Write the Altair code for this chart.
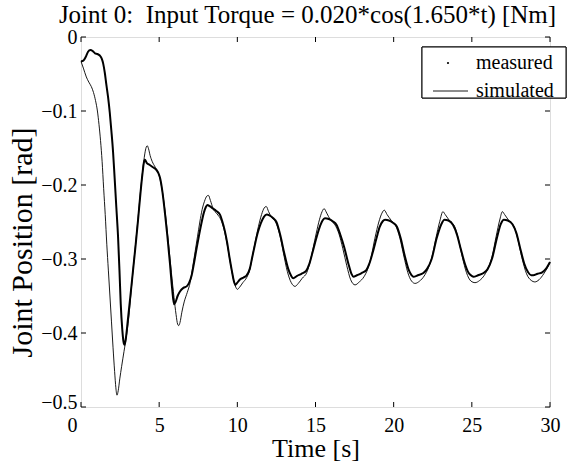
import altair as alt
import pandas as pd

# ---------------- data ----------------
meas_t = [0.0, 0.15, 0.3, 0.45, 0.6, 0.75, 0.9, 1.05, 1.2, 1.32, 1.42, 1.52, 1.62, 1.73, 1.84,
          1.94, 2.05, 2.15, 2.26, 2.37, 2.46, 2.54, 2.64, 2.72, 2.78, 2.85, 3.0, 3.15, 3.33, 3.5,
          3.65, 3.8, 3.93, 4.02, 4.09, 4.2, 4.4, 4.6, 4.8, 4.95, 5.05, 5.2, 5.37, 5.53, 5.69,
          5.83, 5.95, 6.05, 6.18, 6.33, 6.55, 6.76, 6.92, 7.08, 7.25, 7.4, 7.55, 7.7, 7.85, 7.98,
          8.08, 8.25, 8.45, 8.65, 8.89, 9.05, 9.2, 9.35, 9.5, 9.65, 9.78, 9.88, 10.0, 10.15, 10.4,
          10.6, 10.8, 10.95, 11.1, 11.3, 11.5, 11.7, 11.88, 12.05, 12.3, 12.5, 12.75, 13.0, 13.25,
          13.45, 13.58, 13.8, 14.1, 14.4, 14.6, 14.8, 15.05, 15.3, 15.45, 15.6, 15.85, 16.1, 16.35,
          16.6, 16.85, 17.1, 17.3, 17.42, 17.65, 17.95, 18.25, 18.45, 18.65, 18.9, 19.1, 19.3,
          19.45, 19.7, 19.95, 20.2, 20.45, 20.7, 20.95, 21.15, 21.26, 21.55, 21.9, 22.15, 22.43,
          22.75, 23.05, 23.25, 23.5, 23.8, 24.05, 24.3, 24.55, 24.8, 25.0, 25.1, 25.4, 25.75, 26.0,
          26.3, 26.6, 26.85, 27.05, 27.3, 27.6, 27.85, 28.1, 28.35, 28.6, 28.8, 28.93, 29.2, 29.5,
          29.75, 30.0]
meas_v = [-0.033, -0.032, -0.027, -0.020, -0.0175, -0.019, -0.022, -0.023, -0.025, -0.029, -0.036,
          -0.048, -0.064, -0.081, -0.102, -0.126, -0.155, -0.19, -0.23, -0.27, -0.315, -0.36,
          -0.395, -0.412, -0.416, -0.41, -0.382, -0.352, -0.315, -0.28, -0.247, -0.212, -0.185,
          -0.17, -0.166, -0.170, -0.173, -0.176, -0.179, -0.184, -0.19, -0.208, -0.238, -0.27,
          -0.306, -0.34, -0.361, -0.358, -0.35, -0.344, -0.339, -0.337, -0.332, -0.322, -0.303,
          -0.285, -0.268, -0.252, -0.238, -0.23, -0.227, -0.229, -0.232, -0.235, -0.240, -0.250,
          -0.262, -0.278, -0.298, -0.316, -0.330, -0.335, -0.332, -0.328, -0.325, -0.322, -0.313,
          -0.298, -0.283, -0.265, -0.252, -0.243, -0.240, -0.241, -0.245, -0.250, -0.268, -0.292,
          -0.313, -0.323, -0.326, -0.323, -0.320, -0.316, -0.307, -0.292, -0.272, -0.255, -0.248,
          -0.245, -0.246, -0.249, -0.254, -0.268, -0.285, -0.306, -0.320, -0.324, -0.322, -0.319,
          -0.315, -0.306, -0.292, -0.272, -0.257, -0.249, -0.247, -0.248, -0.251, -0.256, -0.272,
          -0.295, -0.314, -0.322, -0.324, -0.322, -0.319, -0.313, -0.300, -0.272, -0.253, -0.247,
          -0.248, -0.254, -0.267, -0.287, -0.306, -0.319, -0.323, -0.324, -0.322, -0.319, -0.314,
          -0.299, -0.272, -0.253, -0.247, -0.248, -0.253, -0.265, -0.286, -0.306, -0.318, -0.322,
          -0.322, -0.320, -0.318, -0.313, -0.304]

sim_t = [0.0, 0.15, 0.34, 0.5, 0.66, 0.8, 0.93, 1.05, 1.15, 1.25, 1.35, 1.45, 1.55, 1.65, 1.75,
         1.85, 1.95, 2.05, 2.15, 2.23, 2.3, 2.38, 2.48, 2.6, 2.75, 2.9, 3.05, 3.2, 3.35, 3.5, 3.65,
         3.8, 3.95, 4.08, 4.17, 4.24, 4.32, 4.42, 4.55, 4.75, 4.95, 5.1, 5.25, 5.42, 5.6, 5.78,
         5.95, 6.08, 6.18, 6.25, 6.33, 6.45, 6.6, 6.8, 6.98, 7.15, 7.3, 7.45, 7.6, 7.75, 7.9, 8.05,
         8.15, 8.28, 8.45, 8.7, 8.95, 9.15, 9.35, 9.55, 9.75, 9.9, 10.0, 10.15, 10.35, 10.6, 10.8,
         10.95, 11.15, 11.35, 11.55, 11.72, 11.85, 12.0, 12.2, 12.45, 12.7, 12.95, 13.2, 13.45,
         13.69, 13.9, 14.15, 14.45, 14.65, 14.85, 15.05, 15.25, 15.42, 15.55, 15.72, 15.95, 16.25,
         16.5, 16.75, 17.0, 17.25, 17.53, 17.8, 18.1, 18.35, 18.55, 18.8, 19.05, 19.25, 19.4,
         19.58, 19.85, 20.15, 20.4, 20.65, 20.9, 21.15, 21.37, 21.65, 21.95, 22.2, 22.45, 22.7,
         22.95, 23.15, 23.3, 23.6, 23.9, 24.15, 24.4, 24.65, 24.95, 25.2, 25.5, 25.8, 26.05, 26.3,
         26.55, 26.8, 26.95, 27.1, 27.4, 27.7, 27.95, 28.2, 28.5, 28.8, 29.03, 29.3, 29.6, 29.85,
         30.0]
sim_v = [-0.033, -0.042, -0.054, -0.061, -0.067, -0.075, -0.086, -0.100, -0.118, -0.14, -0.168,
         -0.205, -0.24, -0.28, -0.315, -0.35, -0.385, -0.42, -0.452, -0.474, -0.484, -0.478,
         -0.462, -0.445, -0.425, -0.405, -0.38, -0.345, -0.31, -0.278, -0.245, -0.21, -0.18,
         -0.158, -0.149, -0.147, -0.151, -0.160, -0.168, -0.176, -0.184, -0.196, -0.215, -0.243,
         -0.28, -0.318, -0.352, -0.375, -0.388, -0.39, -0.386, -0.372, -0.358, -0.345, -0.332,
         -0.31, -0.29, -0.27, -0.25, -0.233, -0.222, -0.215, -0.214, -0.221, -0.232, -0.239,
         -0.247, -0.260, -0.28, -0.305, -0.327, -0.338, -0.341, -0.338, -0.332, -0.325, -0.314,
         -0.298, -0.276, -0.256, -0.240, -0.231, -0.229, -0.236, -0.244, -0.250, -0.266, -0.292,
         -0.317, -0.332, -0.337, -0.333, -0.326, -0.318, -0.304, -0.285, -0.265, -0.247, -0.236,
         -0.232, -0.238, -0.247, -0.254, -0.266, -0.286, -0.309, -0.328, -0.335, -0.331, -0.324,
         -0.313, -0.298, -0.272, -0.250, -0.238, -0.234, -0.240, -0.248, -0.256, -0.272, -0.296,
         -0.318, -0.330, -0.333, -0.330, -0.323, -0.313, -0.297, -0.272, -0.249, -0.236, -0.240,
         -0.249, -0.256, -0.274, -0.298, -0.318, -0.330, -0.332, -0.329, -0.322, -0.312, -0.296,
         -0.27, -0.246, -0.236, -0.24, -0.249, -0.256, -0.274, -0.298, -0.32, -0.329, -0.331,
         -0.328, -0.32, -0.311, -0.304]

x_ticks = [0, 5, 10, 15, 20, 25, 30]
y_ticks = [0, -0.1, -0.2, -0.3, -0.4, -0.5]
legend_labels = ["measured", "simulated"]
title_text = ["Joint 0:\u00a0 Input Torque = 0.020*cos(1.650*t) [Nm]"]
x_title = "Time [s]"
y_title = "Joint Position [rad]"

# ---------------- layout / style ----------------
W, H = 469, 370
FONT = "Liberation Serif"
TICK = 5

meas = pd.DataFrame({"t": meas_t, "v": meas_v})
sim = pd.DataFrame({"t": sim_t, "v": sim_v})
xt = pd.DataFrame({"t": x_ticks})
yt = pd.DataFrame({"v": y_ticks})
leg = pd.DataFrame({"label": legend_labels})
ttl = pd.DataFrame({"title": title_text})

xs = alt.Scale(domain=[0, 30], nice=False, zero=False)
ys = alt.Scale(domain=[-0.5, 0], nice=False, zero=False)

x_axis = alt.Axis(values=x_ticks, ticks=False, domain=False, grid=False,
                  labelFont=FONT, labelFontSize=20, labelColor="black",
                  labelPadding=8, labelFlush=False, labelOverlap=False,
                  labelOffset={"condition": {"test": "datum.value == 0", "value": -9}, "value": 0},
                  title=x_title, titleFont=FONT, titleFontSize=26,
                  titleFontWeight="normal", titleColor="black",
                  titleBaseline="top", titleY=28)
y_axis = alt.Axis(values=y_ticks, ticks=False, domain=False, grid=False, format="~g",
                  labelFont=FONT, labelFontSize=20, labelColor="black",
                  labelPadding=4, labelFlush=False, labelOverlap=False,
                  labelOffset={"condition": {"test": "datum.value == -0.5", "value": -5}, "value": 0},
                  title=y_title, titleFont=FONT, titleFontSize=30,
                  titleFontWeight="normal", titleColor="black",
                  titleBaseline="middle", titleX=-59, titleY=205, titleAngle=270)

X = alt.X("t:Q", scale=xs, axis=x_axis)
Y = alt.Y("v:Q", scale=ys, axis=y_axis)

sim_line = alt.Chart(sim).mark_line(color="black", strokeWidth=0.9,
                                    interpolate="monotone").encode(x=X, y=Y)
meas_line = alt.Chart(meas).mark_line(color="black", strokeWidth=2,
                                      interpolate="monotone").encode(x=X, y=Y)

tick_b = alt.Chart(xt).mark_rule(color="black", strokeWidth=1).encode(
    x=X, y=alt.value(H), y2=alt.value(H - TICK))
tick_t = alt.Chart(xt).mark_rule(color="black", strokeWidth=1).encode(
    x=X, y=alt.value(0), y2=alt.value(TICK))
tick_l = alt.Chart(yt).mark_rule(color="black", strokeWidth=1).encode(
    y=Y, x=alt.value(0), x2=alt.value(TICK))
tick_r = alt.Chart(yt).mark_rule(color="black", strokeWidth=1).encode(
    y=Y, x=alt.value(W), x2=alt.value(W - TICK))

# legend (box, symbols, labels)
leg_box = alt.Chart(leg).mark_rect(fill="white", stroke="black", strokeWidth=1).encode(
    x=alt.value(341), x2=alt.value(485), y=alt.value(10), y2=alt.value(61))
leg_dot = alt.Chart(leg).transform_filter(alt.datum.label == "measured").mark_circle(
    color="black", size=5, opacity=1).encode(x=alt.value(367), y=alt.value(26))
leg_line = alt.Chart(leg).transform_filter(alt.datum.label == "simulated").mark_rule(
    color="black", strokeWidth=0.9).encode(x=alt.value(352), x2=alt.value(387), y=alt.value(54))
leg_t1 = alt.Chart(leg).transform_filter(alt.datum.label == "measured").mark_text(
    align="left", baseline="middle", font=FONT, fontSize=20, color="black").encode(
    text="label:N", x=alt.value(395), y=alt.value(26))
leg_t2 = alt.Chart(leg).transform_filter(alt.datum.label == "simulated").mark_text(
    align="left", baseline="middle", font=FONT, fontSize=20, color="black").encode(
    text="label:N", x=alt.value(395), y=alt.value(54))

# chart title
title_mark = alt.Chart(ttl).mark_text(
    align="center", baseline="alphabetic", font=FONT, fontSize=25, color="black").encode(
    text="title:N", x=alt.value(W / 2 - 8), y=alt.value(-14))

chart = alt.layer(
    sim_line, meas_line, tick_b, tick_t, tick_l, tick_r,
    leg_box, leg_dot, leg_line, leg_t1, leg_t2, title_mark
).properties(
    width=W, height=H,
    autosize=alt.AutoSizeParams(type="none"),
    padding={"left": 81, "top": 37, "right": 26, "bottom": 54},
).configure_view(
    stroke="black", strokeWidth=1.2
).configure(background="white")

chart.save("out.html", embed_options={"renderer": "svg", "actions": False})
